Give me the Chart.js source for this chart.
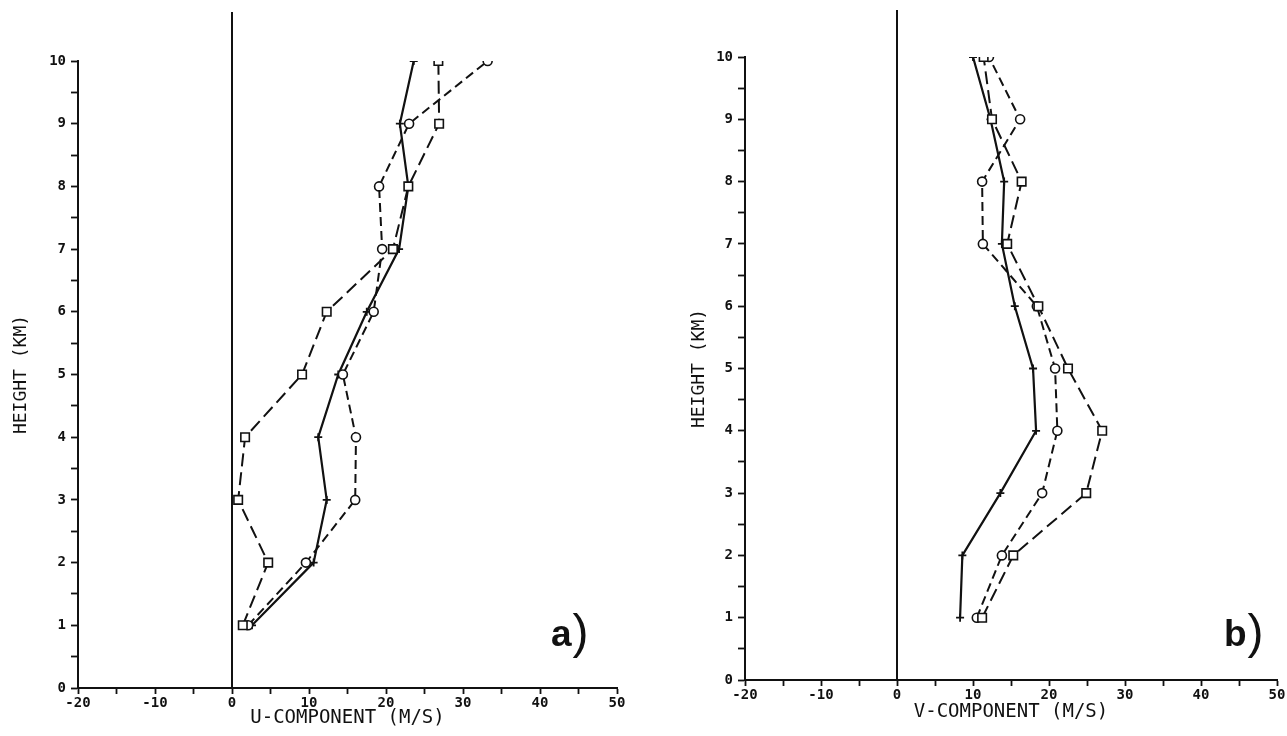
<!DOCTYPE html>
<html>
<head>
<meta charset="utf-8">
<script src="https://cdn.jsdelivr.net/npm/chart.js@4.4.1/dist/chart.umd.min.js"></script>
<style>
  html, body { margin: 0; padding: 0; background: #fff; }
  body { width: 1287px; height: 736px; position: relative; overflow: hidden; }
  .panel { position: absolute; top: 0; height: 736px; }
  #wrapA { left: 0; width: 640px; }
  #wrapB { left: 640px; width: 647px; }
  .tag { position: absolute; color: #111; font-family: "Liberation Sans", Arial, sans-serif; line-height: 1; white-space: nowrap; }
  .tag b { font-size: 37px; font-weight: bold; }
  .tag span { font-size: 48px; font-weight: normal; font-family: "Liberation Sans", sans-serif; position: relative; top: 2px; left: 1px; }
</style>
</head>
<body>
<div class="panel" id="wrapA"><canvas id="chartA" width="640" height="736"></canvas></div>
<div class="panel" id="wrapB"><canvas id="chartB" width="647" height="736"></canvas></div>
<div class="tag" style="left:551px; top:606px;"><b>a</b><span>)</span></div>
<div class="tag" style="left:1224px; top:606px;"><b>b</b><span>)</span></div>

<script>
// --- Data ---
const heights = [1, 2, 3, 4, 5, 6, 7, 8, 9, 10];

// a) U-component (m/s)
const uPlus   = [2.6, 10.6, 12.3, 11.2, 13.8, 17.5, 21.7, 22.9, 21.8, 23.6];
const uCircle = [2.1, 9.6, 16.0, 16.1, 14.4, 18.4, 19.5, 19.1, 23.0, 33.2];
const uSquare = [1.4, 4.7, 0.8, 1.7, 9.1, 12.3, 20.9, 22.9, 26.9, 26.8];

// b) V-component (m/s)
const vPlus   = [8.3, 8.6, 13.6, 18.3, 17.9, 15.5, 13.8, 14.1, 12.3, 10.0];
const vCircle = [10.5, 13.8, 19.1, 21.1, 20.8, 18.4, 11.3, 11.2, 16.2, 12.1];
const vSquare = [11.2, 15.3, 24.9, 27.0, 22.5, 18.6, 14.5, 16.4, 12.5, 11.4];

// axis ranges / tick steps
const xRange = [-20, 50];
const yRange = [0, 10];
const xLabelStep = 10;

const INK = "#111";
const pts = xs => xs.map((x, i) => ({ x, y: heights[i] }));

// --- vertical line through x = 0, runs up past the top tick ---
const zeroLine = {
  id: "zeroLine",
  beforeDatasetsDraw(chart, args, opts) {
    const { ctx, chartArea, scales } = chart;
    const x0 = scales.x.getPixelForValue(0);
    ctx.save();
    ctx.strokeStyle = INK;
    ctx.lineWidth = 2;
    ctx.beginPath();
    ctx.moveTo(x0, opts.top);
    ctx.lineTo(x0, chartArea.bottom);
    ctx.stroke();
    ctx.restore();
  }
};

function buildConfig(plus, circle, square, xTitle, pad, yTitlePad, xTitlePad, zeroTop) {
  const common = {
    borderColor: INK,
    borderWidth: 2,
    pointBorderColor: INK,
    pointBackgroundColor: "#fff",
    pointBorderWidth: 1.6,
    tension: 0,
    fill: false
  };
  const tickFont = { family: "'DejaVu Sans Mono', monospace", size: 14, weight: "bold" };
  return {
    type: "line",
    data: {
      datasets: [
        { ...common, data: pts(square), borderDash: [13, 6], pointStyle: "rect", pointRadius: 6 },
        { ...common, data: pts(circle), borderDash: [9, 5], pointStyle: "circle", pointRadius: 4.5 },
        { ...common, data: pts(plus), borderWidth: 2.2, pointStyle: "cross", pointRadius: 4, pointBorderWidth: 1.8 }
      ]
    },
    options: {
      responsive: false,
      animation: false,
      layout: { padding: pad },
      plugins: {
        legend: { display: false },
        tooltip: { enabled: false },
        zeroLine: { top: zeroTop }
      },
      scales: {
        x: {
          type: "linear",
          min: xRange[0],
          max: xRange[1],
          afterFit: s => { s.height = 48; },
          border: { display: true, color: INK, width: 2 },
          grid: { drawOnChartArea: false, drawTicks: true, tickLength: 6, tickColor: INK, tickWidth: 1.8 },
          ticks: {
            stepSize: 5,
            padding: 1,
            color: INK,
            maxRotation: 0,
            autoSkip: false,
            font: tickFont,
            callback: v => (v % xLabelStep === 0 ? String(v) : "")
          },
          title: {
            display: true,
            text: xTitle,
            color: INK,
            font: { family: "'DejaVu Sans Mono', monospace", size: 19 },
            padding: { top: 0, bottom: xTitlePad }
          }
        },
        y: {
          type: "linear",
          min: yRange[0],
          max: yRange[1],
          afterFit: s => { s.width = 70; },
          border: { display: true, color: INK, width: 2 },
          grid: { drawOnChartArea: false, drawTicks: true, tickLength: 7, tickColor: INK, tickWidth: 1.8 },
          ticks: {
            stepSize: 0.5,
            padding: 5,
            color: INK,
            autoSkip: false,
            font: tickFont,
            callback: v => (Number.isInteger(v) ? String(v) : "")
          },
          title: {
            display: true,
            text: "HEIGHT (KM)",
            color: INK,
            font: { family: "'DejaVu Sans Mono', monospace", size: 18 },
            padding: { top: yTitlePad, bottom: 0 }
          }
        }
      }
    },
    plugins: [zeroLine]
  };
}

new Chart(document.getElementById("chartA"),
  buildConfig(uPlus, uCircle, uSquare, "U-COMPONENT (M/S)",
    { left: 8, right: 23, top: 61, bottom: 0 }, 3, 7, 12));

new Chart(document.getElementById("chartB"),
  buildConfig(vPlus, vCircle, vSquare, "V-COMPONENT (M/S)",
    { left: 35, right: 10, top: 57, bottom: 8 }, 14, 5, 10));
</script>
</body>
</html>
